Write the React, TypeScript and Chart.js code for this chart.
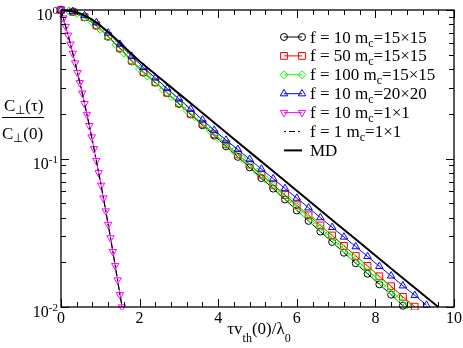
import React, { useEffect, useRef } from 'react';
import { Chart, registerables } from 'chart.js';
import { drawPoint } from 'chart.js/helpers';

Chart.register(...registerables);

// ---------- axis ranges & tick labels ----------
const X_MIN = 0;
const X_MAX = 10;
const Y_MIN = 0.01;
const Y_MAX = 1;
const X_MAJOR_TICKS = [0, 2, 4, 6, 8, 10];
const X_TICK_LABELS = ['0', '2', '4', '6', '8', '10'];
const X_MINOR_STEP = 0.4;
const Y_MAJOR_TICKS = [1, 0.1, 0.01];
const Y_TICK_EXPONENTS = ['0', '-1', '-2'];

// ---------- series: f = 10, m_c = 15x15 (black circles) ----------
const CIRCLE_T = [0, 0.3, 0.6, 0.9, 1.2, 1.5, 1.8, 2.1, 2.4, 2.7, 3.0, 3.3, 3.6, 3.9, 4.2, 4.5, 4.8, 5.1, 5.4, 5.7, 6.0, 6.3, 6.6, 6.9, 7.2, 7.5, 7.8, 8.1, 8.4, 8.7];
const CIRCLE_C = [1, 0.971, 0.893, 0.783, 0.659, 0.548, 0.451, 0.378, 0.324, 0.276, 0.233, 0.198, 0.1675, 0.1426, 0.1208, 0.1026, 0.0871, 0.0738, 0.0627, 0.053, 0.0447, 0.038, 0.0322, 0.0274, 0.0232, 0.0197, 0.01675, 0.0142, 0.0121, 0.0102];

// ---------- series: f = 50, m_c = 15x15 (red squares) ----------
const SQUARE_T = [0, 0.3, 0.6, 0.9, 1.2, 1.5, 1.8, 2.1, 2.4, 2.7, 3.0, 3.3, 3.6, 3.9, 4.2, 4.5, 4.8, 5.1, 5.4, 5.7, 6.0, 6.3, 6.6, 6.9, 7.2, 7.5, 7.8, 8.1, 8.4, 8.7, 9.0];
const SQUARE_C = [1, 0.973, 0.897, 0.789, 0.667, 0.556, 0.457, 0.383, 0.326, 0.277, 0.236, 0.2, 0.171, 0.146, 0.125, 0.1067, 0.0912, 0.0778, 0.0665, 0.0568, 0.0485, 0.0415, 0.0354, 0.0303, 0.0258, 0.0221, 0.0189, 0.0161, 0.0138, 0.0117, 0.01005];

// ---------- series: f = 100, m_c = 15x15 (green diamonds) ----------
const DIAMOND_T = [0, 0.2, 0.4, 0.6, 0.8, 1.0, 1.2, 1.4, 1.6, 1.8, 2.0, 2.2, 2.4, 2.6, 2.8, 3.0, 3.2, 3.4, 3.6, 3.8, 4.0, 4.2, 4.4, 4.6, 4.8, 5.0, 5.2, 5.4, 5.6, 5.8, 6.0, 6.2, 6.4, 6.6, 6.8, 7.0, 7.2, 7.4, 7.6, 7.8, 8.0, 8.2, 8.4, 8.6, 8.8];
const DIAMOND_C = [1, 0.984, 0.948, 0.891, 0.822, 0.741, 0.659, 0.583, 0.513, 0.451, 0.4, 0.359, 0.324, 0.291, 0.262, 0.236, 0.211, 0.191, 0.171, 0.154, 0.138, 0.124, 0.112, 0.1002, 0.0904, 0.0811, 0.0728, 0.0656, 0.0589, 0.0528, 0.0473, 0.0425, 0.0381, 0.0341, 0.0306, 0.0274, 0.0246, 0.0221, 0.0198, 0.0177, 0.0159, 0.0143, 0.0128, 0.0115, 0.0103];

// ---------- series: f = 10, m_c = 20x20 (blue triangles) ----------
const TRI_UP_T = [0, 0.3, 0.6, 0.9, 1.2, 1.5, 1.8, 2.1, 2.4, 2.7, 3.0, 3.3, 3.6, 3.9, 4.2, 4.5, 4.8, 5.1, 5.4, 5.7, 6.0, 6.3, 6.6, 6.9, 7.2, 7.5, 7.8, 8.1, 8.4, 8.7, 9.0, 9.3];
const TRI_UP_C = [1, 0.979, 0.918, 0.822, 0.701, 0.589, 0.488, 0.41, 0.349, 0.296, 0.252, 0.215, 0.182, 0.155, 0.133, 0.115, 0.0989, 0.0849, 0.0731, 0.0628, 0.0541, 0.0466, 0.04, 0.0344, 0.0296, 0.0255, 0.0219, 0.0188, 0.0162, 0.0139, 0.012, 0.0103];

// ---------- series: f = 10, m_c = 1x1 (magenta down triangles) ----------
const TRI_DOWN_T = [0, 0.06, 0.12, 0.18, 0.24, 0.3, 0.36, 0.42, 0.48, 0.54, 0.6, 0.66, 0.72, 0.78, 0.84, 0.9, 0.96, 1.02, 1.08, 1.14, 1.2, 1.26, 1.32, 1.38, 1.44, 1.5, 1.55];
const TRI_DOWN_C = [1, 0.882, 0.774, 0.676, 0.588, 0.51, 0.44, 0.378, 0.324, 0.276, 0.234, 0.198, 0.1665, 0.1396, 0.1165, 0.0968, 0.0801, 0.066, 0.0542, 0.0443, 0.036, 0.0292, 0.0236, 0.019, 0.0152, 0.0121, 0.01];

// ---------- series: f = 1, m_c = 1x1 (black dash-dot) ----------
const DASHDOT_T = [0, 0.1, 0.2, 0.3, 0.4, 0.5, 0.6, 0.7, 0.8, 0.9, 1.0, 1.1, 1.2, 1.3, 1.4, 1.5, 1.56];
const DASHDOT_C = [1, 0.808, 0.646, 0.51, 0.398, 0.307, 0.234, 0.1765, 0.1315, 0.0968, 0.0705, 0.0507, 0.036, 0.0253, 0.0176, 0.0121, 0.01];

// ---------- series: MD (solid black) ----------
const MD_T = [0, 0.25, 0.5, 0.75, 1.0, 1.25, 1.5, 1.75, 2.0, 2.5, 3.0, 3.5, 4.0, 4.5, 5.0, 5.5, 6.0, 6.5, 7.0, 7.5, 8.0, 8.5, 9.0, 9.6];
const MD_C = [1, 0.986, 0.944, 0.875, 0.785, 0.692, 0.603, 0.519, 0.452, 0.3515, 0.2735, 0.2128, 0.1656, 0.1288, 0.1002, 0.078, 0.0607, 0.0472, 0.0367, 0.0286, 0.0222, 0.0173, 0.01346, 0.01];

// ---------- legend labels ----------
const LEGEND_F = ['f = 10 m', 'f = 50 m', 'f = 100 m', 'f = 10 m', 'f = 10 m', 'f = 1 m', 'MD'];
const LEGEND_MC = ['=15×15', '=15×15', '=15×15', '=20×20', '=1×1', '=1×1', ''];

const SERIF = '"Liberation Serif", "Times New Roman", serif';

function pts(xs: number[], ys: number[]) {
  return xs.map((x, i) => ({ x, y: ys[i] }));
}

type MarkerSpec = { style: string; rotation: number; radius: number; color: string } | null;

const STYLES: { color: string; marker: MarkerSpec; kind: 'marker' | 'dashdot' | 'solid' }[] = [
  { color: '#000000', marker: { style: 'circle', rotation: 0, radius: 3.5, color: '#000000' }, kind: 'marker' },
  { color: '#ff0000', marker: { style: 'rect', rotation: 0, radius: 4.8, color: '#ff0000' }, kind: 'marker' },
  { color: '#00ff00', marker: { style: 'rectRot', rotation: 0, radius: 4, color: '#00ff00' }, kind: 'marker' },
  { color: '#0000ff', marker: { style: 'triangle', rotation: 0, radius: 4.3, color: '#0000ff' }, kind: 'marker' },
  { color: '#ff00ff', marker: { style: 'triangle', rotation: 180, radius: 4.3, color: '#ff00ff' }, kind: 'marker' },
  { color: '#000000', marker: null, kind: 'dashdot' },
  { color: '#000000', marker: null, kind: 'solid' },
];

type Part = { t: string; size: number; dy: number };

function drawRich(ctx: CanvasRenderingContext2D, parts: Part[], x: number, y: number) {
  let cx = x;
  for (const p of parts) {
    ctx.font = `${p.size}px ${SERIF}`;
    ctx.fillText(p.t, cx, y + p.dy);
    cx += ctx.measureText(p.t).width;
  }
  return cx;
}

function richWidth(ctx: CanvasRenderingContext2D, parts: Part[]) {
  let w = 0;
  for (const p of parts) {
    ctx.font = `${p.size}px ${SERIF}`;
    w += ctx.measureText(p.t).width;
  }
  return w;
}

const overlay = {
  id: 'overlay',
  afterDraw(chart: any) {
    const ctx: CanvasRenderingContext2D = chart.ctx;
    const a = chart.chartArea;
    const xs = chart.scales.x;
    const ys = chart.scales.y;
    ctx.save();

    // frame
    ctx.strokeStyle = '#000';
    ctx.lineWidth = 1.3;
    ctx.strokeRect(a.left, a.top, a.right - a.left, a.bottom - a.top);

    // x ticks (inward, bottom and top)
    ctx.lineWidth = 1;
    const nMinor = Math.round((X_MAX - X_MIN) / X_MINOR_STEP);
    for (let i = 0; i <= nMinor; i++) {
      const v = X_MIN + i * X_MINOR_STEP;
      const px = Math.round(xs.getPixelForValue(v)) + 0.5;
      const major = X_MAJOR_TICKS.some((m) => Math.abs(m - v) < 1e-6);
      const len = major ? 8 : 5;
      ctx.beginPath();
      ctx.moveTo(px, a.bottom);
      ctx.lineTo(px, a.bottom - len);
      ctx.moveTo(px, a.top);
      ctx.lineTo(px, a.top + len);
      ctx.stroke();
    }
    // y ticks (inward, left and right)
    for (let d = 0; d < Y_MAJOR_TICKS.length; d++) {
      const base = Y_MAJOR_TICKS[d];
      const py = Math.round(ys.getPixelForValue(base)) + 0.5;
      ctx.beginPath();
      ctx.moveTo(a.left, py);
      ctx.lineTo(a.left + 8, py);
      ctx.moveTo(a.right, py);
      ctx.lineTo(a.right - 8, py);
      ctx.stroke();
      if (base > Y_MIN) {
        for (let k = 2; k <= 9; k++) {
          const v = (base / 10) * k;
          const my = Math.round(ys.getPixelForValue(v)) + 0.5;
          ctx.beginPath();
          ctx.moveTo(a.left, my);
          ctx.lineTo(a.left + 5, my);
          ctx.moveTo(a.right, my);
          ctx.lineTo(a.right - 5, my);
          ctx.stroke();
        }
      }
    }

    // x tick labels
    ctx.fillStyle = '#000';
    ctx.textBaseline = 'alphabetic';
    ctx.textAlign = 'center';
    ctx.font = `16px ${SERIF}`;
    X_MAJOR_TICKS.forEach((v, i) => {
      ctx.fillText(X_TICK_LABELS[i], xs.getPixelForValue(v), a.bottom + 16);
    });

    // y tick labels: 10^n
    ctx.textAlign = 'left';
    Y_MAJOR_TICKS.forEach((v, i) => {
      const py = ys.getPixelForValue(v);
      const parts = [
        { t: '10', size: 16, dy: 0 },
        { t: Y_TICK_EXPONENTS[i], size: 11, dy: -6 },
      ];
      const w = richWidth(ctx, parts);
      drawRich(ctx, parts, a.left - 3 - w, py + 10);
    });

    // x axis title: τ v_th(0) / λ_0
    const xt = [
      { t: 'τv', size: 17, dy: 0 },
      { t: 'th', size: 12, dy: 8 },
      { t: '(0)/λ', size: 17, dy: 0 },
      { t: '0', size: 12, dy: 8 },
    ];
    const xtw = richWidth(ctx, xt);
    drawRich(ctx, xt, 259 - xtw / 2, 334);

    // y axis title: C⊥(τ) / C⊥(0)
    const num = [
      { t: 'C', size: 17, dy: 0 },
      { t: '⊥', size: 12, dy: 3 },
      { t: '(τ)', size: 17, dy: 0 },
    ];
    const den = [
      { t: 'C', size: 17, dy: 0 },
      { t: '⊥', size: 12, dy: 3 },
      { t: '(0)', size: 17, dy: 0 },
    ];
    drawRich(ctx, num, 4, 111);
    const dw = drawRich(ctx, den, 2, 139);
    ctx.lineWidth = 1;
    ctx.beginPath();
    ctx.moveTo(2, 117.5);
    ctx.lineTo(dw + 1, 117.5);
    ctx.stroke();

    // legend
    const x0 = 284;
    const x1 = 302;
    const tx = 310;
    STYLES.forEach((s, i) => {
      const y = 37 + i * 18.9;
      ctx.save();
      ctx.strokeStyle = s.color;
      if (s.kind === 'marker' && s.marker) {
        ctx.lineWidth = 1;
        ctx.beginPath();
        ctx.moveTo(x0, y);
        ctx.lineTo(x1, y);
        ctx.stroke();
        ctx.fillStyle = 'rgba(0,0,0,0)';
        for (const mx of [x0, x1]) {
          drawPoint(ctx, { pointStyle: s.marker.style, rotation: s.marker.rotation, radius: s.marker.radius, borderWidth: 1 } as any, mx, y);
        }
      } else if (s.kind === 'dashdot') {
        ctx.lineWidth = 1.2;
        ctx.setLineDash([2, 3, 6, 3, 2, 3]);
        ctx.beginPath();
        ctx.moveTo(x0, y);
        ctx.lineTo(x1 + 1, y);
        ctx.stroke();
      } else {
        ctx.lineWidth = 2;
        ctx.beginPath();
        ctx.moveTo(x0, y);
        ctx.lineTo(x1, y);
        ctx.stroke();
      }
      ctx.restore();
      ctx.fillStyle = '#000';
      ctx.textAlign = 'left';
      const parts = LEGEND_MC[i]
        ? [
            { t: LEGEND_F[i], size: 17, dy: 0 },
            { t: 'c', size: 12, dy: 4 },
            { t: LEGEND_MC[i], size: 17, dy: 0 },
          ]
        : [{ t: LEGEND_F[i], size: 17, dy: 0 }];
      drawRich(ctx, parts, tx, y + 5.5);
    });

    ctx.restore();
  },
};

function markerDataset(label: string, xsArr: number[], ysArr: number[], idx: number, order: number) {
  const s = STYLES[idx];
  const m = s.marker!;
  return {
    label,
    data: pts(xsArr, ysArr),
    borderColor: s.color,
    borderWidth: 1,
    pointStyle: m.style,
    pointRotation: m.rotation,
    pointRadius: m.radius,
    pointBorderWidth: 1,
    pointBorderColor: s.color,
    pointBackgroundColor: 'rgba(0,0,0,0)',
    fill: false,
    tension: 0,
    order,
    clip: { left: 8, top: 8, right: 8, bottom: 3 },
  };
}

export default function App() {
  const ref = useRef<HTMLCanvasElement>(null);
  useEffect(() => {
    const datasets: any[] = [
      markerDataset('f = 10 mc=15×15', CIRCLE_T, CIRCLE_C, 0, 6),
      markerDataset('f = 50 mc=15×15', SQUARE_T, SQUARE_C, 1, 5),
      markerDataset('f = 100 mc=15×15', DIAMOND_T, DIAMOND_C, 2, 4),
      markerDataset('f = 10 mc=20×20', TRI_UP_T, TRI_UP_C, 3, 3),
      markerDataset('f = 10 mc=1×1', TRI_DOWN_T, TRI_DOWN_C, 4, 2),
      {
        label: 'f = 1 mc=1×1',
        data: pts(DASHDOT_T, DASHDOT_C),
        borderColor: '#000',
        borderWidth: 1.2,
        borderDash: [6, 3, 2, 3],
        pointRadius: 0,
        fill: false,
        tension: 0,
        order: 1,
        clip: { left: 8, top: 8, right: 8, bottom: 1 },
      },
      {
        label: 'MD',
        data: pts(MD_T, MD_C),
        borderColor: '#000',
        borderWidth: 2,
        pointRadius: 0,
        fill: false,
        tension: 0,
        order: 0,
        clip: { left: 8, top: 8, right: 8, bottom: 1 },
      },
    ];
    const chart = new Chart(ref.current as HTMLCanvasElement, {
      type: 'line',
      data: { datasets },
      options: {
        responsive: false,
        animation: false,
        devicePixelRatio: 1,
        layout: { padding: { left: 61, right: 9, top: 10, bottom: 41 } },
        scales: {
          x: { type: 'linear', min: X_MIN, max: X_MAX, display: false },
          y: { type: 'logarithmic', min: Y_MIN, max: Y_MAX, display: false },
        },
        plugins: { legend: { display: false }, tooltip: { enabled: false } },
      } as any,
      plugins: [overlay],
    });
    return () => chart.destroy();
  }, []);
  return (
    <div style={{ position: 'absolute', left: 0, top: 0, width: 463, height: 348, background: '#fff' }}>
      <canvas ref={ref} width={463} height={348} style={{ width: 463, height: 348, display: 'block' }} />
    </div>
  );
}
